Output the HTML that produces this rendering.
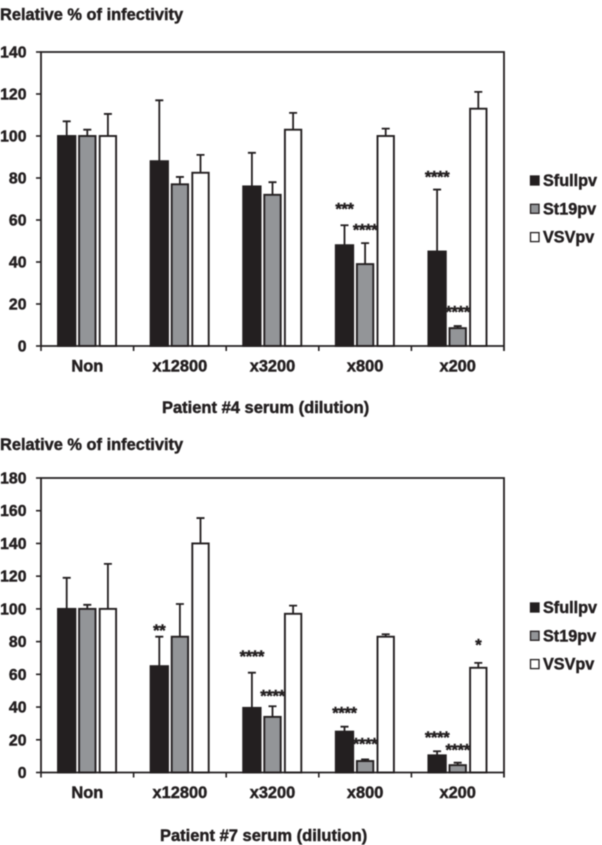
<!DOCTYPE html>
<html lang="en">
<head>
<meta charset="utf-8">
<title>Relative infectivity charts</title>
<style>
html,body{margin:0;padding:0;background:#fff;width:602px;height:845px;overflow:hidden}
svg{display:block;filter:blur(0.4px)}
text{font-family:"Liberation Sans",Arial,sans-serif;font-weight:bold;fill:#231f20;stroke:#231f20;stroke-width:0.45px}
</style>
</head>
<body>
<svg id="figure" width="602" height="845" viewBox="0 0 602 845" xmlns="http://www.w3.org/2000/svg"></svg>
<script>
const categories = ['Non', 'x12800', 'x3200', 'x800', 'x200'];
const seriesNames = ['Sfullpv', 'St19pv', 'VSVpv'];

const p4Ticks = [0, 20, 40, 60, 80, 100, 120, 140];
const p4Sfull = [100, 88, 76, 48, 45];
const p4St19 = [100, 77, 72, 39, 8.5];
const p4Vsv = [100, 82.5, 103, 100, 113];
const p4SfullTop = [107, 117, 92, 57.5, 74.5];
const p4St19Top = [103, 80.5, 78, 49, 9.5];
const p4VsvTop = [110.5, 91, 111, 103.5, 121];
const p4Stars = [
  ['***', 3, 0, 66.3],
  ['****', 3, 1, 56.3],
  ['****', 4, 0, 81.5],
  ['****', 4, 1, 17.1]
];

const p7Ticks = [0, 20, 40, 60, 80, 100, 120, 140, 160, 180];
const p7Sfull = [100, 65, 39.5, 25, 10.5];
const p7St19 = [100, 83, 34, 7, 4.5];
const p7Vsv = [100, 140, 97, 83, 64];
const p7SfullTop = [119, 83, 61, 28, 13];
const p7St19Top = [102.5, 103, 40.5, 8, 6];
const p7VsvTop = [127.5, 155.5, 102, 84.5, 67];
const p7Stars = [
  ['**', 1, 0, 88],
  ['****', 2, 0, 72],
  ['****', 2, 1, 48],
  ['****', 3, 0, 37.5],
  ['****', 3, 1, 18.5],
  ['****', 4, 0, 22.5],
  ['****', 4, 1, 15],
  ['*', 4, 2, 79]
];

const INK = '#231f20';
const FILLS = [INK, '#939598', '#ffffff'];
const NS = 'http://www.w3.org/2000/svg';
const root = document.getElementById('figure');

function make(tag, attrs, parent) {
  const el = document.createElementNS(NS, tag);
  for (const k in attrs) el.setAttribute(k, attrs[k]);
  parent.appendChild(el);
  return el;
}

function drawChart(c) {
  const g = make('g', {}, root);
  
  

  const left = 41, right = 504;
  const maxV = c.ticks[c.ticks.length - 1];
  const y = v => c.bottom - (v / maxV) * (c.bottom - c.top);
  const band = (right - left) / categories.length;
  const x = (i, s) => left + band * (i + 0.5) + (s - 1) * 20.6;

  const title = make('text', {x: 0, y: c.titleY, 'font-size': 16.4}, g);
  title.textContent = 'Relative % of infectivity';
  
  

  const xTitle = make('text', {x: c.xTitleX, y: c.xTitleY, 'font-size': 16.5}, g);
  xTitle.textContent = c.xTitle;
  
  

  c.values.forEach((vals, s) => {
    vals.forEach((v, i) => {
      const cx = x(i, s);
      const stem = make('path', {
        d: 'M' + cx + ' ' + y(v) + 'V' + y(c.tops[s][i]) + 'M' + (cx - 4) + ' ' + y(c.tops[s][i]) + 'H' + (cx + 4),
        stroke: INK, 'stroke-width': 1.8, fill: 'none'
      }, g);
      
      
      const h = y(0) - y(v);
      const halfWidth = s === 0 ? 8.7 : 8.2;
      const bar = make('rect', {
        x: cx - halfWidth, y: y(v), width: halfWidth * 2, height: h,
        fill: FILLS[s], stroke: INK, 'stroke-width': 1.9
      }, g);
      
      
    });
  });

  const frame = make('path', {
    d: 'M' + left + ' ' + c.bottom + 'V' + c.top + 'H' + right + 'V' + (c.bottom + 5) + 'M' + left + ' ' + c.bottom + 'H' + right,
    stroke: INK, 'stroke-width': 1.8, fill: 'none'
  }, g);
  
  

  c.ticks.forEach(t => {
    const tick = make('line', {x1: 36, x2: left, y1: y(t), y2: y(t), stroke: INK, 'stroke-width': 1.6}, g);
    
    
    const lab = make('text', {x: 26.5, y: y(t) + 5.5, 'font-size': 15.8, 'text-anchor': 'end'}, g);
    lab.textContent = t;
    
    
  });

  categories.forEach((name, i) => {
    const tx = left + band * i;
    const tick = make('line', {x1: tx, x2: tx, y1: c.bottom, y2: c.bottom + 5, stroke: INK, 'stroke-width': 1.6}, g);
    
    
    const lab = make('text', {x: left + band * (i + 0.5), y: c.bottom + 25.5, 'font-size': 16.4, 'text-anchor': 'middle'}, g);
    lab.textContent = name;
    
    
  });

  c.stars.forEach(st => {
    const mark = make('text', {x: x(st[1], st[2]), y: y(st[3]) + 7.5, 'font-size': 16.5, 'text-anchor': 'middle', 'letter-spacing': '-0.3'}, g);
    mark.textContent = st[0];
    
    
  });

  seriesNames.forEach((name, s) => {
    const ly = c.legendY + s * 28.3;
    const sw = make('rect', {x: 530.5, y: ly - 4.5, width: 8.5, height: 9, fill: FILLS[s], stroke: INK, 'stroke-width': 1.3}, g);
    
    
    const lab = make('text', {x: 543, y: ly + 5.5, 'font-size': 16.2}, g);
    lab.textContent = name;
    
    
  });
}

drawChart({
  key: 'patient-4', top: 52, bottom: 346, titleY: 20, xTitleX: 162, xTitleY: 413,
  xTitle: 'Patient #4 serum (dilution)', ticks: p4Ticks,
  values: [p4Sfull, p4St19, p4Vsv], tops: [p4SfullTop, p4St19Top, p4VsvTop],
  stars: p4Stars, legendY: 180.5
});
drawChart({
  key: 'patient-7', top: 478, bottom: 772.5, titleY: 450, xTitleX: 160, xTitleY: 841,
  xTitle: 'Patient #7 serum (dilution)', ticks: p7Ticks,
  values: [p7Sfull, p7St19, p7Vsv], tops: [p7SfullTop, p7St19Top, p7VsvTop],
  stars: p7Stars, legendY: 607.5
});
</script>
</body>
</html>
